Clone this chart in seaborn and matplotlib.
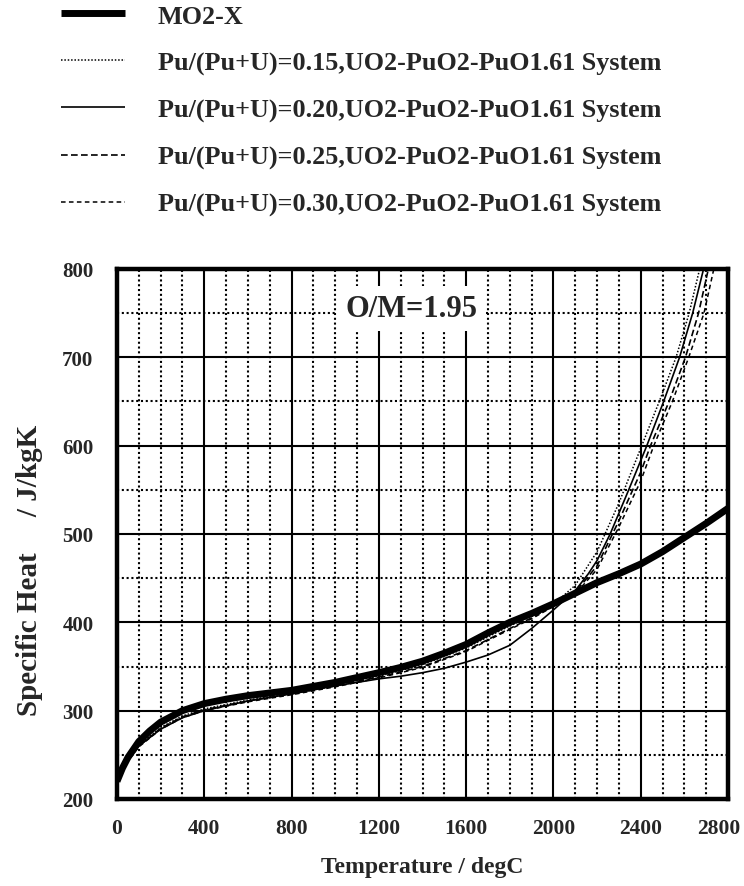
import numpy as np
import pandas as pd
import matplotlib
matplotlib.use("Agg")
import matplotlib.pyplot as plt
import matplotlib.transforms as mtransforms
from matplotlib.ticker import MultipleLocator
import seaborn as sns

# ---------------- data ----------------
T_mo2 = [0, 25, 50, 100, 150, 200, 300, 400, 500, 600, 800, 1000, 1200, 1300,
         1400, 1500, 1600, 1700, 1800, 1900, 2000, 2100, 2200, 2300, 2400,
         2500, 2600, 2700, 2800]
cp_mo2 = [220, 235, 247, 265, 277, 287, 300, 308, 313, 317, 323, 332, 343, 349,
          356, 365, 375, 388, 400, 410, 421, 433, 445, 455, 466,
          480, 496, 512, 529]

T_15 = [0, 50, 100, 200, 300, 400, 600, 800, 1000, 1200, 1400, 1600, 1800,
        1900, 2000, 2100, 2200, 2300, 2400, 2485, 2562, 2622, 2670]
cp_15 = [224, 244, 261, 281, 294, 302, 312, 320, 329, 339, 352, 371, 396,
         407, 420, 442, 480, 535, 597, 650, 700, 750, 800]

T_20 = [0, 50, 100, 200, 300, 400, 600, 800, 1000, 1200, 1300, 1400, 1500,
        1600, 1700, 1800, 1900, 2000, 2100, 2160, 2200, 2260, 2345, 2428,
        2505, 2578, 2638, 2688]
cp_20 = [225, 245, 260, 279, 292, 300, 311, 319, 328, 336, 339, 343, 348,
         355, 363, 374, 393, 414, 436, 455, 470, 500, 550, 600,
         650, 700, 750, 800]

T_25 = [0, 50, 100, 200, 300, 400, 600, 800, 1000, 1200, 1400, 1600, 1800,
        1900, 2000, 2100, 2200, 2300, 2400, 2445, 2530, 2605, 2665, 2710]
cp_25 = [224, 243, 260, 280, 293, 301, 311, 319, 328, 338, 350, 368, 393,
         405, 419, 434, 464, 515, 570, 600, 650, 700, 750, 800]

T_30 = [0, 50, 100, 200, 300, 400, 600, 800, 1000, 1200, 1400, 1600, 1800,
        1900, 2000, 2100, 2200, 2300, 2400, 2460, 2545, 2620, 2690, 2735]
cp_30 = [223, 243, 259, 279, 292, 300, 310, 318, 327, 337, 349, 367, 392,
         404, 418, 432, 460, 508, 560, 600, 650, 700, 750, 800]

labels = ["MO2-X",
          "Pu/(Pu+U)=0.15,UO2-PuO2-PuO1.61 System",
          "Pu/(Pu+U)=0.20,UO2-PuO2-PuO1.61 System",
          "Pu/(Pu+U)=0.25,UO2-PuO2-PuO1.61 System",
          "Pu/(Pu+U)=0.30,UO2-PuO2-PuO1.61 System"]

x_ticks = [0, 400, 800, 1200, 1600, 2000, 2400, 2800]
y_ticks = [200, 300, 400, 500, 600, 700, 800]

# ---------------- style ----------------
sns.set_style("white")
plt.rcParams['font.family'] = ['Liberation Serif', 'DejaVu Serif']
plt.rcParams['font.weight'] = 'bold'
plt.rcParams['axes.labelweight'] = 'bold'

fig = plt.figure(figsize=(7.44, 8.87), dpi=100)
W, H = 744, 887
left, right, top, bottom = 117, 728, 270, 800
ax = fig.add_axes([left / W, 1 - bottom / H, (right - left) / W, (bottom - top) / H])

styles = [
    dict(T=T_mo2, cp=cp_mo2, lw=5.0, dashes=None),
    dict(T=T_15, cp=cp_15, lw=1.1, dashes=(1, 1.2)),
    dict(T=T_20, cp=cp_20, lw=1.2, dashes=None),
    dict(T=T_25, cp=cp_25, lw=1.2, dashes=(4, 2)),
    dict(T=T_30, cp=cp_30, lw=1.1, dashes=(3, 2.2)),
]

handles = []
for lab, st in zip(labels, styles):
    df = pd.DataFrame({"T": st["T"], "cp": st["cp"]})
    sns.lineplot(data=df, x="T", y="cp", ax=ax, color="black", lw=st["lw"],
                 sort=False, estimator=None, zorder=5, legend=False)
    ln = ax.lines[-1]
    if st["dashes"] is not None:
        ln.set_dashes(st["dashes"])
    ln.set_solid_capstyle('butt')
    handles.append(ln)
if ax.get_legend() is not None:
    ax.get_legend().remove()

ax.set_xlim(0, 2800)
ax.set_ylim(200, 800)
ax.set_xticks(x_ticks)
ax.set_yticks(y_ticks)
ax.xaxis.set_minor_locator(MultipleLocator(100))
ax.yaxis.set_minor_locator(MultipleLocator(50))
ax.tick_params(which='both', length=0)
ax.tick_params(axis='x', pad=14)
ax.tick_params(axis='y', pad=17)
ax.set_xticklabels([str(v) for v in x_ticks], fontsize=15.5, fontweight='bold')
ax.set_yticklabels([str(v) for v in y_ticks], fontsize=15, fontweight='bold')
last = ax.get_xticklabels()[-1]
last.set_transform(last.get_transform() +
                   mtransforms.ScaledTranslation(-9 / 100, 0, fig.dpi_scale_trans))

ax.grid(which='major', color='black', lw=1.5, ls='-')
ax.grid(which='minor', color='black', lw=1.5, ls=(0, (1, 1.3)))
ax.set_axisbelow(True)
for sp in ax.spines.values():
    sp.set_color('black')
    sp.set_linewidth(3.2)
    sp.set_zorder(10)

ax.set_xlabel("Temperature / degC", fontsize=17, fontweight='bold', labelpad=13)
ax.set_ylabel("Specific Heat" + " " * 5 + "/ J/kgK", fontsize=21, fontweight='bold')
ax.yaxis.set_label_coords(-0.121, 0.434)

ax.text(1350, 755, "O/M=1.95", fontsize=22, fontweight='bold', ha='center',
        va='center', zorder=4,
        bbox=dict(facecolor='white', edgecolor='none', pad=6))

fig.legend(handles=handles, labels=labels, loc='upper left',
           bbox_to_anchor=(56 / W, 1.0), frameon=False,
           handlelength=2.45, handletextpad=1.25,
           labelspacing=0.9, borderaxespad=0, borderpad=0.2,
           prop=dict(weight='bold', size=18.8))

fig.savefig("out.png", dpi=100)
